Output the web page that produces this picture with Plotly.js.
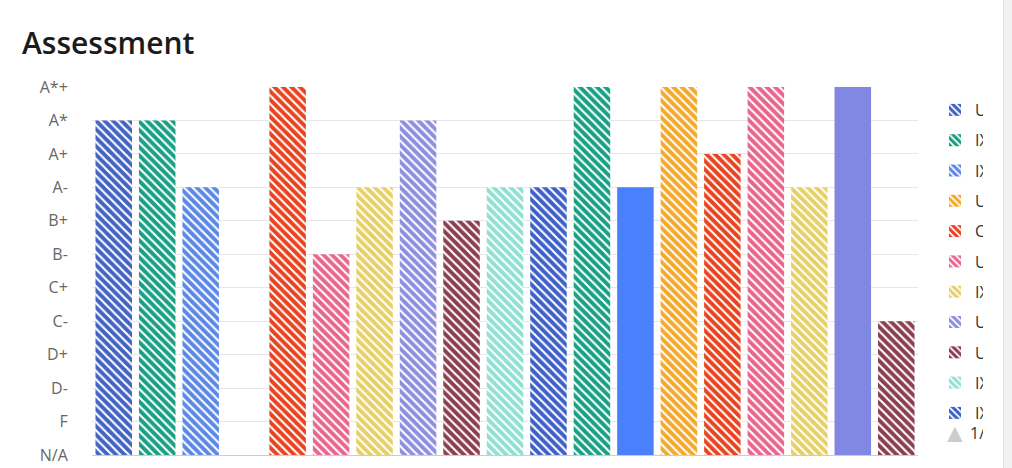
<!DOCTYPE html>
<html>
<head>
<meta charset="utf-8">
<script src="https://cdn.plot.ly/plotly-3.0.1.min.js"></script>
<style>
  html, body { margin: 0; padding: 0; background: #fff; overflow: hidden; }
  #clip { position: absolute; left: 0; top: 0; width: 983px; height: 468px; overflow: hidden; }
  #chart { width: 1100px; height: 468px; }
  #edge { position: absolute; left: 1003px; top: 0; width: 9px; height: 468px; background: #f1f1f1; border-left: 1px solid #e2e2e2; box-sizing: border-box; }
</style>
</head>
<body>
<div id="clip"><div id="chart"></div></div>
<div id="edge"></div>
<script>
// Grade scale (bottom to top)
const grades = ['N/A','F','D-','D+','C-','C+','B-','B+','A-','A+','A*','A*+'];

// Series names (as visible, legend is clipped in the reference)
const seriesNames = ['U','IX','IX','U','C','U','IX','U','U','IX','IX',
                     'IX','IX','U','C','U','IX','U','U'];

// Grade for each series
const seriesGrades = ['A*','A*','A-','N/A','A*+','B-','A-','A*','B+','A-','A-',
                      'A*+','A-','A*+','A+','A*+','A-','A*+','C-'];

// Colours
const seriesColors = ['#4262c4','#17a083','#5b87e6','#f5a82a','#e8431f','#e8658d','#e6d066','#8e8ee0','#8a3e4e','#8fe0d2','#3d5fc8',
                      '#17a083','#4a80fc','#f5a82a','#e8431f','#e8658d','#e6d066','#8188e4','#8a3e4e'];
// hatched or solid
const seriesHatched = [true,true,true,true,true,true,true,true,true,true,true,
                       true,false,true,true,true,true,false,true];
const legendCount = 11;

const traces = seriesNames.map((name, i) => ({
  type: 'bar',
  name: name,
  x: ['Assessment'],
  y: [seriesGrades[i]],
  legendgroup: 'g' + i,
  showlegend: i < legendCount,
  marker: {
    color: seriesColors[i],
    line: { width: 0 },
    pattern: seriesHatched[i]
      ? { shape: '\\', fgcolor: '#ffffff', bgcolor: seriesColors[i], size: 6, solidity: 0.36, fillmode: 'replace' }
      : { shape: '' }
  },
  hoverinfo: 'skip'
}));

const W = 1100;
const layout = {
  width: W,
  height: 468,
  margin: { l: 92, r: W - 918, t: 87, b: 13 },
  paper_bgcolor: '#ffffff',
  plot_bgcolor: '#ffffff',
  font: { family: 'Open Sans, Noto Sans, sans-serif', size: 16, color: '#666666' },
  title: {
    text: 'Assessment',
    font: { family: 'Open Sans, Noto Sans, sans-serif', size: 30, weight: 600, color: '#1b1b1b' },
    xref: 'container', x: 22 / W, xanchor: 'left',
    yref: 'container', y: 1 - 43 / 468, yanchor: 'middle'
  },
  barmode: 'group',
  bargap: 0,
  bargroupgap: 0.16,
  xaxis: {
    showticklabels: false,
    showgrid: false,
    zeroline: false,
    showline: true,
    linecolor: '#cccccc',
    linewidth: 1,
    fixedrange: true
  },
  yaxis: {
    type: 'category',
    categoryorder: 'array',
    categoryarray: grades,
    range: [0, grades.length - 1],
    showgrid: true,
    gridcolor: '#e6e6e6',
    gridwidth: 1,
    zeroline: false,
    showline: false,
    ticks: 'outside',
    ticklen: 20,
    tickcolor: 'rgba(0,0,0,0)',
    tickfont: { size: 16, color: '#666666' },
    fixedrange: true
  },
  showlegend: true,
  legend: {
    xref: 'container', x: 935 / W, xanchor: 'left',
    yref: 'container', y: 1 - 93 / 468, yanchor: 'top',
    tracegroupgap: 6.5,
    maxheight: 460,
    font: { size: 16, color: '#333333' },
    bgcolor: 'rgba(0,0,0,0)',
    borderwidth: 0
  },
  annotations: [
    { xref: 'paper', yref: 'paper', x: (955 - 92) / 826, y: (455 - 432) / 368, text: '▲',
      showarrow: false, font: { size: 26, color: '#cccccc' }, xanchor: 'center', yanchor: 'middle' },
    { xref: 'paper', yref: 'paper', x: (968 - 92) / 826, y: (455 - 433) / 368, text: '1/2',
      showarrow: false, font: { size: 16, color: '#333333' }, xanchor: 'left', yanchor: 'middle' }
  ]
};

Plotly.newPlot('chart', traces, layout, { displayModeBar: false, staticPlot: true });
</script>
</body>
</html>
